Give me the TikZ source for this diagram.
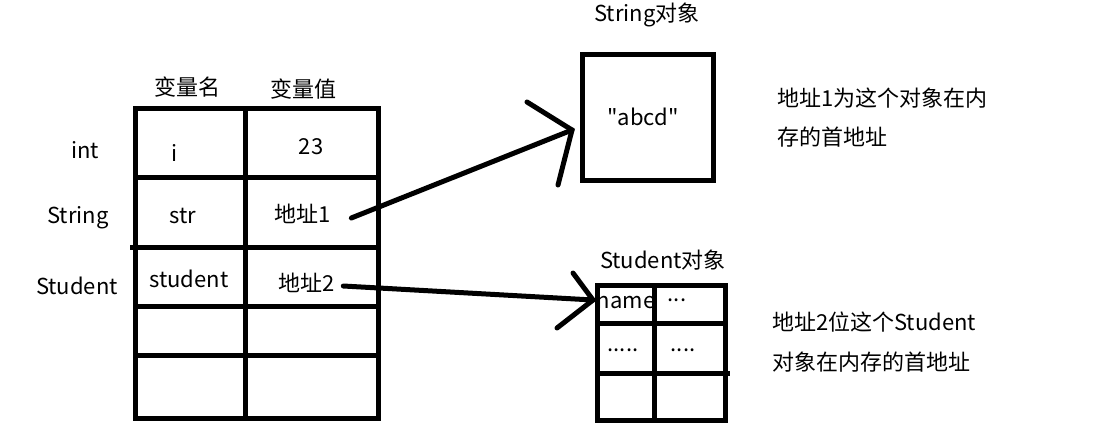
\documentclass[tikz,border=0pt]{standalone}
\usepackage{fontspec}
\setmainfont{Noto Sans CJK SC}[Ligatures=TeXOff]
\tikzset{
  lbl/.style={font=\fontsize{22}{26}\selectfont, inner sep=2pt},
  note/.style={lbl, anchor=west},
  grid/.style={line width=5pt},
  pointer/.style={line width=5pt, line cap=round}
}
\begin{document}
\begin{tikzpicture}[x=1pt, y=-1pt]
    \useasboundingbox[fill=white] (0,0) rectangle (1097,437);
    % variable table
    \draw[grid] (135,108) rectangle (378,418);
    \draw[grid] (245,108) -- (245,418);
    \foreach \y in {177,247,306,355}
        \draw[grid] (135,\y) -- (378,\y);
    \draw[grid] (130,247) -- (135,247);
    \node[lbl] (vname) at (187,87) {变量名};
    \node[lbl] (vval)  at (303,89) {变量值};
    \node[lbl] (tint)  at (85,150)  {int};
    \node[lbl] (tstr)  at (78,218)  {String};
    \node[lbl] (tstu)  at (77,286)  {Student};
    \node[lbl] (ni)    at (175,153) {i};
    \node[lbl] (nstr)  at (183,216) {str};
    \node[lbl] (nstu)  at (189,279) {student};
    \node[lbl] (v23)   at (311,147) {23};
    \node[lbl] (addr1) at (303,214) {地址1};
    \node[lbl] (addr2) at (307,283) {地址2};
    % String object
    \draw[grid] (582,54) rectangle (713,180);
    \node[lbl] (strobj) at (647,15)  {String对象};
    \node[lbl] (abcd)   at (643,117) {"abcd"};
    \node[note] (note1a) at (775,98)  {地址1为这个对象在内};
    \node[note] (note1b) at (775,137) {存的首地址};
    % Student object
    \draw[grid] (597,285) rectangle (725,420);
    \draw[grid] (654,285) -- (654,420);
    \draw[grid] (597,323) -- (725,323);
    \draw[grid] (597,373) -- (730,373);
    \node[lbl] (stuobj) at (663,260) {Student对象};
    \node[lbl] (fname)  at (626,303) {name};
    \node[lbl] (f1)     at (677,300) {...};
    \node[lbl] (f2)     at (623,350) {.....};
    \node[lbl] (f3)     at (683,350) {....};
    \node[note] (note2a) at (770,322) {地址2位这个Student};
    \node[note] (note2b) at (770,362) {对象在内存的首地址};
    % pointers
    \coordinate (tip1) at (572,130);
    \coordinate (tip2) at (593,300);
    \draw[pointer] ([xshift=18pt,yshift=-4pt]addr1.east) -- (tip1);
    \draw[pointer] (527,102) -- (tip1) -- (558,185);
    \draw[pointer] ([xshift=6pt,yshift=-3pt]addr2.east) -- (tip2);
    \draw[pointer] (573,273) -- (tip2) -- (557,328);
\end{tikzpicture}
\end{document}
